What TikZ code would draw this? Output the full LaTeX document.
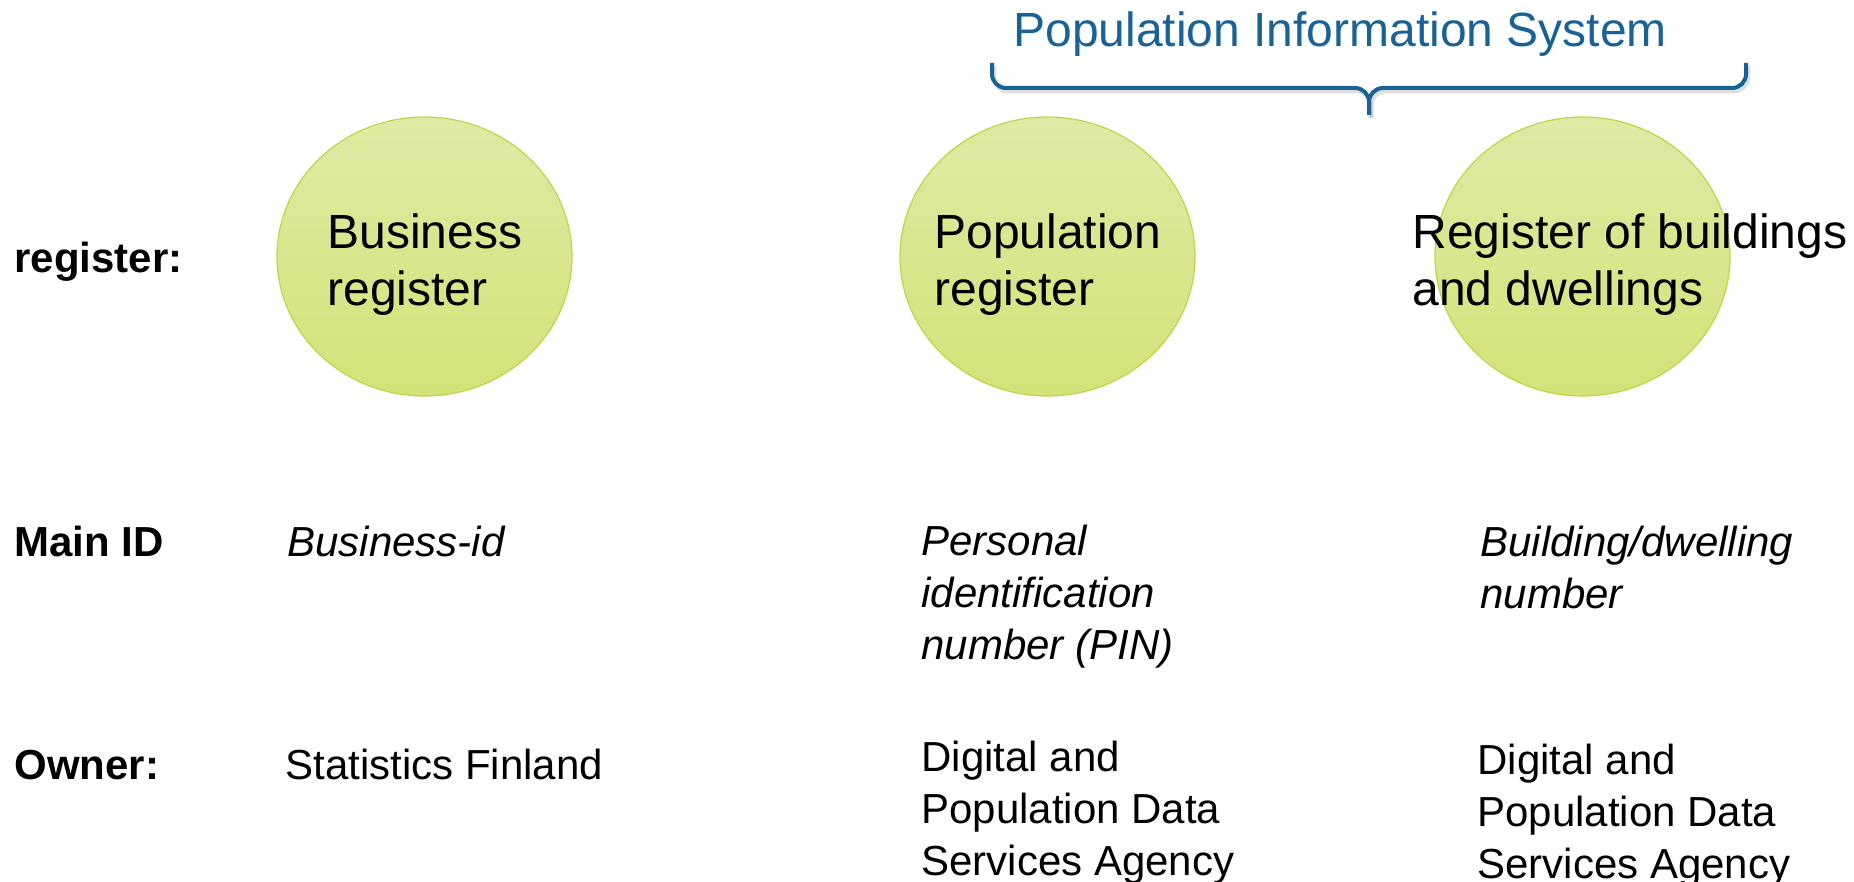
\documentclass[tikz,border=0pt]{standalone}
\usepackage{fontspec}
\setmainfont{Liberation Sans}
\usetikzlibrary{shapes.geometric}
\definecolor{pisblue}{RGB}{24,98,150}
\definecolor{circtop}{RGB}{223,234,164}
\definecolor{circbot}{RGB}{211,227,120}
\definecolor{circedge}{RGB}{192,212,72}
\tikzset{
  regcircle/.style={ellipse, minimum width=147.5pt, minimum height=139.5pt, inner sep=0pt,
    top color=circtop, bottom color=circbot, draw=circedge, line width=0.6pt},
  circtext/.style={anchor=base west, inner sep=0pt, align=left,
    font=\fontsize{24}{28.5}\selectfont},
  rowlabel/.style={anchor=base west, inner sep=0pt, font=\fontsize{21}{26}\selectfont\bfseries},
  celltext/.style={anchor=base west, inner sep=0pt, align=left, font=\fontsize{21}{26}\selectfont},
  cellital/.style={celltext, font=\fontsize{21}{26}\selectfont\itshape},
  bracepath/.style={draw=pisblue, line width=2pt, rounded corners=7pt},
  braceshadow/.style={draw=black!25, line width=2.4pt, rounded corners=7pt, opacity=0.5}
}
\begin{document}
\begin{tikzpicture}[x=0.5pt, y=-0.5pt]
\useasboundingbox (0,0) rectangle (1854,882);

% title and brace
\node[anchor=base west, inner sep=0pt, text=pisblue, font=\fontsize{24}{28}\selectfont] (title) at (1013,47) {Population Information System};
\coordinate (bl) at (992,63);
\coordinate (br) at (1746,63);
\coordinate (bt) at (1369,115);
\coordinate (bm) at (1369,88);
\path[braceshadow] ([shift={(2,3)}]bl) |- ([shift={(2,3)}]bm) -- ([shift={(2,3)}]bt);
\path[braceshadow] ([shift={(2,3)}]br) |- ([shift={(2,3)}]bm) -- ([shift={(2,3)}]bt);
\path[bracepath] (bl) |- (bm) -- (bt);
\path[bracepath] (br) |- (bm) -- (bt);

% circles
\node[regcircle] (c1) at (424.5,256.5) {};
\node[regcircle] (c2) at (1047.5,256.5) {};
\node[regcircle] (c3) at (1582.5,256.5) {};

% multi-line nodes: base anchor is the baseline of the last line
\node[circtext] (t1) at (327,306) {Business\\register};
\node[circtext] (t2) at (934,306) {Population\\register};
\node[circtext] (t3) at (1412,306) {Register of buildings\\and dwellings};

% row labels
\node[rowlabel] (lreg) at (14,273) {register:};
\node[rowlabel] (lid) at (14,556) {Main ID};
\node[rowlabel] (lown) at (14,779) {Owner:};

% cells
\node[cellital] (id1) at (287,556) {Business-id};
\node[cellital] (id2) at (921,659) {Personal\\identification\\number (PIN)};
\node[cellital] (id3) at (1480,608) {Building/dwelling\\number};

\node[celltext] (o1) at (285,779) {Statistics Finland};
\node[celltext] (o2) at (921,875) {Digital and\\Population Data\\Services Agency};
\node[celltext] (o3) at (1477,878) {Digital and\\Population Data\\Services Agency};
\end{tikzpicture}
\end{document}
